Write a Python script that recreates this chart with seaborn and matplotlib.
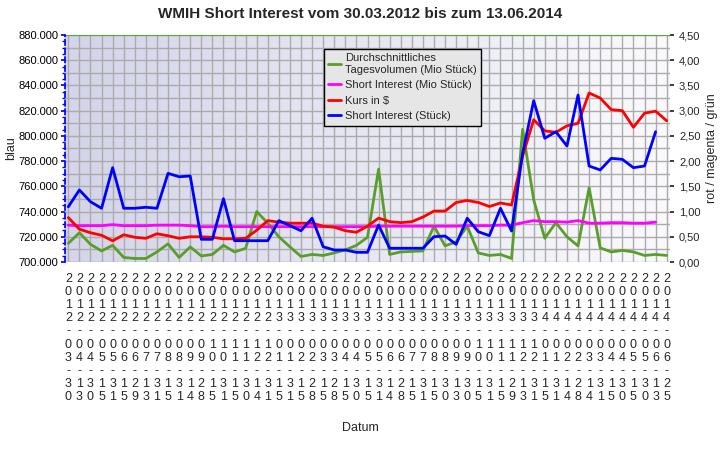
import numpy as np
import pandas as pd
import matplotlib
matplotlib.use("Agg")
import matplotlib.pyplot as plt
import seaborn as sns

dates = ["2012-03-30","2012-04-13","2012-04-30","2012-05-15","2012-05-31","2012-06-15","2012-06-29",
         "2012-07-13","2012-07-31","2012-08-15","2012-08-31","2012-09-14","2012-09-28","2012-10-15",
         "2012-10-31","2012-11-15","2012-11-30","2012-12-14","2012-12-31","2013-01-15","2013-01-31",
         "2013-02-15","2013-02-28","2013-03-15","2013-03-28","2013-04-15","2013-04-30","2013-05-15",
         "2013-05-31","2013-06-14","2013-06-28","2013-07-15","2013-07-31","2013-08-15","2013-08-30",
         "2013-09-13","2013-09-30","2013-10-15","2013-10-31","2013-11-15","2013-11-29","2013-12-13",
         "2013-12-31","2014-01-15","2014-01-31","2014-02-14","2014-02-28","2014-03-14","2014-03-31",
         "2014-04-15","2014-04-30","2014-05-15","2014-05-30","2014-06-13","2014-06-25"]

short_interest = [743800,757100,747800,742600,774800,742600,742600,743400,742600,770300,767600,768200,
                  718000,718000,750200,716900,716900,716900,716900,732800,728800,724800,734700,712100,
                  709500,709500,707700,707700,729300,710900,710900,710900,710900,720100,720600,714000,
                  734700,724000,720900,742600,724600,786200,827900,798100,803300,792000,832400,776100,
                  773000,782200,781400,774800,776100,803300]

kurs = [0.88,0.65,0.58,0.53,0.42,0.54,0.49,0.47,0.56,0.52,0.47,0.50,0.50,0.49,0.46,0.46,0.47,0.63,
        0.82,0.79,0.77,0.77,0.77,0.71,0.69,0.62,0.59,0.71,0.87,0.80,0.78,0.80,0.89,1.01,1.01,1.18,
        1.22,1.18,1.10,1.17,1.13,2.10,2.82,2.60,2.57,2.70,2.75,3.35,3.25,3.02,3.00,2.67,2.95,2.99,2.80]

si_mio = [0.73,0.72,0.72,0.72,0.74,0.72,0.72,0.72,0.73,0.73,0.73,0.72,0.70,0.70,0.71,0.70,0.70,0.70,
          0.70,0.70,0.70,0.70,0.70,0.70,0.70,0.70,0.70,0.70,0.71,0.71,0.71,0.71,0.71,0.71,0.71,0.71,
          0.72,0.72,0.72,0.73,0.73,0.78,0.82,0.80,0.80,0.79,0.82,0.77,0.77,0.78,0.78,0.77,0.77,0.79]

volumen = [0.37,0.58,0.35,0.22,0.33,0.09,0.07,0.07,0.20,0.36,0.09,0.30,0.12,0.15,0.33,0.20,0.27,1.00,
           0.77,0.50,0.30,0.11,0.15,0.13,0.18,0.24,0.33,0.49,1.84,0.15,0.20,0.21,0.22,0.71,0.32,0.40,
           0.71,0.18,0.13,0.15,0.07,2.63,1.23,0.47,0.78,0.50,0.32,1.47,0.28,0.20,0.23,0.20,0.13,0.15,0.13]

sns.set_theme(style="white")
plt.rcParams['font.family'] = ['Liberation Sans', 'DejaVu Sans']

fig = plt.figure(figsize=(7.2, 4.69), dpi=100)
ax = fig.add_axes([65/720, 1-262/469, 605/720, 227/469])
ax2 = ax.twinx()

n = len(dates)
x = np.arange(n)
ax.set_xlim(-0.3, n - 1 + 0.3)
ax.set_ylim(700000, 880000)
ax2.set_ylim(0, 4.5)

grad = np.linspace(0, 1, 256).reshape(1, -1)
cmap = matplotlib.colors.LinearSegmentedColormap.from_list("bg", ["#d4d4ea", "#fafafd"])
ax.imshow(grad, extent=[-0.3, n - 0.7, 700000, 880000], aspect="auto", cmap=cmap, zorder=0)

for xi in x:
    ax.axvline(xi, color="#ababab", lw=1, zorder=1)
for yv in np.arange(700000, 880001, 10000):
    ax.axhline(yv, color="#ababab", lw=1, zorder=1)
ax.axhline(880000, color="#4caf30", lw=1.5, zorder=2)

df_r = pd.DataFrame({"x": x, "y": kurs})
df_m = pd.DataFrame({"x": x[:len(si_mio)], "y": si_mio})
df_g = pd.DataFrame({"x": x, "y": volumen})
df_b = pd.DataFrame({"x": x[:len(short_interest)],
                     "y": (np.array(short_interest) - 700000) / 180000 * 4.5})

sns.lineplot(data=df_g, x="x", y="y", ax=ax2, color="#5a9e2a", lw=2, label="Durchschnittliches\nTagesvolumen (Mio Stück)", legend=False)
sns.lineplot(data=df_m, x="x", y="y", ax=ax2, color="#ff00ff", lw=2, label="Short Interest (Mio Stück)", legend=False)
sns.lineplot(data=df_r, x="x", y="y", ax=ax2, color="#ff0000", lw=2, label="Kurs in $", legend=False)
sns.lineplot(data=df_b, x="x", y="y", ax=ax2, color="#0000ff", lw=2, label="Short Interest (Stück)", legend=False)

ax.set_xticks(x)
ax.set_xticklabels(["\n".join(d) for d in dates], fontsize=9, linespacing=1.12)
ax.tick_params(axis="x", length=0, pad=8)
ax.set_yticks(np.arange(700000, 880001, 20000))
ax.set_yticklabels([f"{v:,.0f}".replace(",", ".") for v in np.arange(700000, 880001, 20000)], fontsize=8)
ax.tick_params(axis="y", colors="black", length=3, color="blue", pad=2)
ax.set_yticks(np.arange(700000, 880001, 5000), minor=True)
ax.tick_params(axis="y", which="minor", length=2, color="blue", left=True)
ax2.set_yticks(np.arange(0, 4.51, 0.5))
ax2.set_yticklabels([f"{v:.2f}".replace(".", ",") for v in np.arange(0, 4.51, 0.5)], fontsize=8)
ax2.tick_params(axis="y", length=3)
ax2.set_xlim(ax.get_xlim())

for a in (ax, ax2):
    for s in a.spines.values():
        s.set_visible(False)
ax.spines["left"].set_visible(True)
ax.spines["left"].set_color("blue")
ax.spines["left"].set_linestyle((0, (3, 2)))

ax.set_ylabel("blau", fontsize=9, labelpad=1)
ax2.set_ylabel("rot / magenta / grün", fontsize=9)
ax.set_xlabel("")
ax2.set_xlabel("")
fig.text(0.5, 1 - 428/469, "Datum", ha="center", va="center", fontsize=9)
fig.suptitle("WMIH Short Interest vom 30.03.2012 bis zum 13.06.2014", y=1 - 14/469, va="center",
             fontsize=11, fontweight="bold")

h, l = ax2.get_legend_handles_labels()
leg = ax2.legend(h, l, loc="upper left", bbox_to_anchor=((318 - 65) / 605, 1 - 8/227), fontsize=8,
                 frameon=True, fancybox=False, edgecolor="black", facecolor="#e6e6e6", framealpha=1,
                 handlelength=1.2, handletextpad=0.3, borderpad=0.4, labelspacing=0.5)
leg.get_frame().set_linewidth(1)

fig.savefig("out.png", dpi=100)
